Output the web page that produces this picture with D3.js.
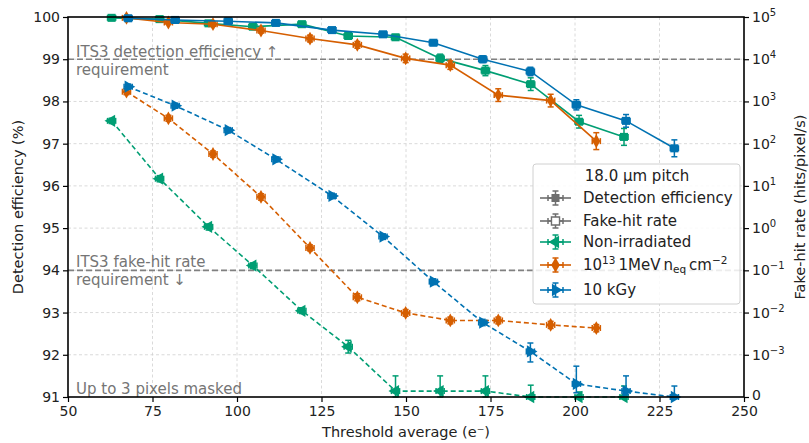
<!DOCTYPE html>
<html>
<head>
<meta charset="utf-8">
<script src="https://cdn.jsdelivr.net/npm/d3@7"></script>
<style>
  body { margin: 0; background: #fff; }
  text { font-family: "DejaVu Sans", sans-serif; }
</style>
</head>
<body>
<script>
// threshold (e-) per series
const greenThr = [62.9, 77.1, 91.6, 104.7, 119.2, 132.9, 146.9, 160.1, 173.5, 186.9, 201.2, 214.5];
const orangeThr = [67.3, 79.7, 92.9, 107.1, 121.6, 135.6, 149.9, 163.1, 177.3, 192.8, 206.3];
const blueThr = [67.8, 81.7, 97.4, 111.5, 128.1, 143.2, 158.1, 172.7, 186.8, 200.4, 215.1, 229.4];

// detection efficiency (%) and errors
const greenEff = [99.98, 99.95, 99.85, 99.77, 99.83, 99.55, 99.52, 99.02, 98.73, 98.41, 97.52, 97.16];
const greenEffErr = [0.01, 0.02, 0.03, 0.03, 0.03, 0.05, 0.05, 0.1, 0.12, 0.15, 0.15, 0.2];
const orangeEff = [99.98, 99.87, 99.83, 99.68, 99.49, 99.34, 99.02, 98.86, 98.15, 98.02, 97.06];
const orangeEffErr = [0.03, 0.04, 0.05, 0.06, 0.08, 0.08, 0.1, 0.1, 0.15, 0.15, 0.2];
const blueEff = [99.97, 99.93, 99.9, 99.86, 99.69, 99.59, 99.39, 99.0, 98.71, 97.92, 97.54, 96.89];
const blueEffErr = [0.02, 0.03, 0.03, 0.04, 0.05, 0.05, 0.06, 0.08, 0.1, 0.12, 0.15, 0.2];

// fake-hit rate (hits/pixel/s) with lower / upper error ends
const greenFhr = [347, 14.8, 1.07, 0.13, 0.011, 0.00155, 0.00014, 0.00014, 0.00014, 0, 0, 0];
const greenFhrLo = [300, 12.5, 0.9, 0.11, 0.0095, 0.0011, 0, 0, 0, 0, 0, 0];
const greenFhrHi = [400, 17.5, 1.25, 0.15, 0.013, 0.0022, 0.0005, 0.0005, 0.0005, 0.00028, 0.00012, 0.00026];
const orangeFhr = [1700, 398, 57, 5.5, 0.34, 0.023, 0.0098, 0.0065, 0.0065, 0.0051, 0.0043];
const orangeFhrLo = [1450, 340, 48, 4.6, 0.29, 0.019, 0.0082, 0.0054, 0.0054, 0.0042, 0.0035];
const orangeFhrHi = [2000, 470, 67, 6.5, 0.4, 0.028, 0.0118, 0.0078, 0.0078, 0.0062, 0.0052];
const blueFhr = [2240, 794, 209, 42.7, 5.8, 0.63, 0.054, 0.0058, 0.0012, 0.00031, 0.00014, 0];
const blueFhrLo = [1950, 690, 180, 37, 5.0, 0.54, 0.046, 0.0049, 0.00083, 0.0001, 0.00005, 0];
const blueFhrHi = [2580, 910, 240, 49, 6.7, 0.73, 0.063, 0.0069, 0.0019, 0.00073, 0.0005, 0.00026];

const xTicks = [50, 75, 100, 125, 150, 175, 200, 225, 250];
const yTicks = [91, 92, 93, 94, 95, 96, 97, 98, 99, 100];
const rTickExp = [null, -3, -2, -1, 0, 1, 2, 3, 4, 5];   // null -> "0"

const colors = { green: '#009e73', orange: '#d55e00', blue: '#0072b2', grey: '#6e6e6e' };

const series = [
    { name: 'green', thr: greenThr, eff: greenEff, effErr: greenEffErr, fhr: greenFhr, lo: greenFhrLo, hi: greenFhrHi,
      effSym: d3.symbolSquare, fhrSym: d3.symbolTriangle, fhrRot: -90 },
    { name: 'orange', thr: orangeThr, eff: orangeEff, effErr: orangeEffErr, fhr: orangeFhr, lo: orangeFhrLo, hi: orangeFhrHi,
      effSym: d3.symbolDiamond, fhrSym: d3.symbolDiamond, fhrRot: 0 },
    { name: 'blue', thr: blueThr, eff: blueEff, effErr: blueEffErr, fhr: blueFhr, lo: blueFhrLo, hi: blueFhrHi,
      effSym: d3.symbolSquare, fhrSym: d3.symbolTriangle, fhrRot: 90 }
];

const W = 809, H = 443;
const pL = 68, pR = 744, pT = 17, pB = 397;

const svg = d3.select('body').append('svg')
    .attr('width', W)
    .attr('height', H);

const x = d3.scaleLinear().domain([50, 250]).range([pL, pR]);
const y = d3.scaleLinear().domain([91, 100]).range([pB, pT]);

// symlog-like right axis: linear 0..1e-3, then log decades
const linthresh = 1e-3;
const symT = v => v <= linthresh ? v / linthresh : 1 + Math.log10(v / linthresh);
const yT = d3.scaleLinear().domain([0, 9]).range([pB, pT]);
const yR = v => yT(symT(v));

// grid
const grid = svg.append('g').attr('class', 'grid');
grid.selectAll('.gx').data(xTicks.slice(1, -1)).enter().append('line')
    .attr('x1', d => x(d)).attr('x2', d => x(d))
    .attr('y1', pT).attr('y2', pB)
    .attr('stroke', '#d0d0d0').attr('stroke-width', 0.8).attr('stroke-dasharray', '3,2.5');
grid.selectAll('.gy').data(yTicks.slice(1, -1)).enter().append('line')
    .attr('x1', pL).attr('x2', pR)
    .attr('y1', d => y(d)).attr('y2', d => y(d))
    .attr('stroke', '#d0d0d0').attr('stroke-width', 0.8).attr('stroke-dasharray', '3,2.5');

// requirement lines
svg.append('line')
    .attr('x1', pL).attr('x2', pR).attr('y1', y(99)).attr('y2', y(99))
    .attr('stroke', '#808080').attr('stroke-width', 1.6).attr('stroke-dasharray', '6,3');
svg.append('line')
    .attr('x1', pL).attr('x2', pR).attr('y1', yR(0.1)).attr('y2', yR(0.1))
    .attr('stroke', '#808080').attr('stroke-width', 1.6).attr('stroke-dasharray', '6,3');

const note = (tx, ty, s) => svg.append('text')
    .attr('x', tx).attr('y', ty)
    .attr('font-size', 15).attr('fill', '#757575').text(s);
note(76, 57, 'ITS3 detection efficiency ↑');
note(76, 75, 'requirement');
note(76, 267, 'ITS3 fake-hit rate');
note(76, 285, 'requirement ↓');
note(76, 394, 'Up to 3 pixels masked');

const plot = svg.append('g');

function errBars(g, pts, color) {
    const cap = 3;
    pts.forEach(p => {
        g.append('line').attr('x1', p.x).attr('x2', p.x).attr('y1', p.y0).attr('y2', p.y1)
            .attr('stroke', color).attr('stroke-width', 1.5);
        [p.y0, p.y1].forEach(yy => g.append('line')
            .attr('x1', p.x - cap).attr('x2', p.x + cap).attr('y1', yy).attr('y2', yy)
            .attr('stroke', color).attr('stroke-width', 1.5));
        g.append('line').attr('x1', p.x0).attr('x2', p.x1).attr('y1', p.y).attr('y2', p.y)
            .attr('stroke', color).attr('stroke-width', 1.5);
        [p.x0, p.x1].forEach(xx => g.append('line')
            .attr('x1', xx).attr('x2', xx).attr('y1', p.y - cap).attr('y2', p.y + cap)
            .attr('stroke', color).attr('stroke-width', 1.5));
    });
}

series.forEach(s => {
    const c = colors[s.name];
    const g = plot.append('g');

    // fake-hit rate (dashed)
    const fPts = s.thr.map((t, i) => ({
        x: x(t), y: yR(s.fhr[i]), y0: yR(s.lo[i]), y1: yR(s.hi[i]), x0: x(t - 1.2), x1: x(t + 1.2)
    }));
    g.append('path')
        .datum(fPts)
        .attr('fill', 'none').attr('stroke', c).attr('stroke-width', 1.6)
        .attr('stroke-dasharray', '5,3')
        .attr('d', d3.line().x(d => d.x).y(d => d.y));
    errBars(g, fPts, c);
    g.selectAll('.fm').data(fPts).enter().append('path')
        .attr('transform', d => `translate(${d.x},${d.y}) rotate(${s.fhrRot})`)
        .attr('d', d3.symbol().type(s.fhrSym).size(s.name === 'orange' ? 55 : 65))
        .attr('fill', c);

    // detection efficiency (solid)
    const ePts = s.thr.map((t, i) => ({
        x: x(t), y: y(s.eff[i]), y0: y(s.eff[i] - s.effErr[i]), y1: y(s.eff[i] + s.effErr[i]),
        x0: x(t - 1.2), x1: x(t + 1.2)
    }));
    g.append('path')
        .datum(ePts)
        .attr('fill', 'none').attr('stroke', c).attr('stroke-width', 1.6)
        .attr('d', d3.line().x(d => d.x).y(d => d.y));
    errBars(g, ePts, c);
    g.selectAll('.em').data(ePts).enter().append('path')
        .attr('transform', d => `translate(${d.x},${d.y})`)
        .attr('d', d3.symbol().type(s.effSym).size(s.name === 'orange' ? 55 : 65))
        .attr('fill', c);
});

// frame
svg.append('rect')
    .attr('x', pL).attr('y', pT).attr('width', pR - pL).attr('height', pB - pT)
    .attr('fill', 'none').attr('stroke', '#000').attr('stroke-width', 1.6);

// axes
const axB = svg.append('g').attr('transform', `translate(0,${pB})`)
    .call(d3.axisBottom(x).tickValues(xTicks).tickSize(5).tickPadding(4));
const axL = svg.append('g').attr('transform', `translate(${pL},0)`)
    .call(d3.axisLeft(y).tickValues(yTicks).tickSize(5).tickPadding(3));
const axR = svg.append('g').attr('transform', `translate(${pR},0)`)
    .call(d3.axisRight(yT).tickValues(d3.range(0, 10)).tickSize(5).tickPadding(3).tickFormat(() => ''));

[axB, axL, axR].forEach(a => {
    a.select('.domain').remove();
    a.selectAll('line').attr('stroke', '#000').attr('stroke-width', 1.2);
    a.selectAll('text').attr('font-size', 14).attr('fill', '#222').attr('font-family', '"DejaVu Sans", sans-serif');
});

axR.selectAll('.tick text').each(function(d) {
    const t = d3.select(this);
    const e = rTickExp[d];
    if (e === null) { t.text('0').attr('dy', '0.2em'); return; }
    t.append('tspan').text('10');
    t.append('tspan').attr('dy', -6).attr('font-size', 10).text(e < 0 ? '\u2212' + (-e) : e);
});

// axis titles
svg.append('text')
    .attr('x', (pL + pR) / 2).attr('y', 437)
    .attr('text-anchor', 'middle').attr('font-size', 14.5).attr('fill', '#222')
    .text('Threshold average (e\u207B)');
svg.append('text')
    .attr('transform', `translate(23,${(pT + pB) / 2}) rotate(-90)`)
    .attr('text-anchor', 'middle').attr('font-size', 14.5).attr('fill', '#222')
    .text('Detection efficiency (%)');
svg.append('text')
    .attr('transform', `translate(805,${(pT + pB) / 2}) rotate(-90)`)
    .attr('text-anchor', 'middle').attr('font-size', 14.5).attr('fill', '#222')
    .text('Fake-hit rate (hits/pixel/s)');

// legend
const lg = svg.append('g');
lg.append('rect')
    .attr('x', 533).attr('y', 164).attr('width', 207).attr('height', 140).attr('rx', 3)
    .attr('fill', 'rgba(255,255,255,0.85)').attr('stroke', '#d0d0d0');
lg.append('text').attr('x', 637).attr('y', 181).attr('text-anchor', 'middle')
    .attr('font-size', 15).attr('fill', '#222').text('18.0 µm pitch');

const legendRows = [
    { cy: 198, color: colors.grey, sym: d3.symbolSquare, rot: 0, open: false, label: 'Detection efficiency' },
    { cy: 221, color: colors.grey, sym: d3.symbolSquare, rot: 0, open: true, label: 'Fake-hit rate' },
    { cy: 242, color: colors.green, sym: d3.symbolTriangle, rot: -90, open: false, label: 'Non-irradiated' },
    { cy: 265, color: colors.orange, sym: d3.symbolDiamond, rot: 0, open: false, label: null },
    { cy: 290, color: colors.blue, sym: d3.symbolTriangle, rot: 90, open: false, label: '10 kGy' }
];
legendRows.forEach(r => {
    const g = lg.append('g');
    g.append('line').attr('x1', 540).attr('x2', 571).attr('y1', r.cy).attr('y2', r.cy)
        .attr('stroke', r.color).attr('stroke-width', 1.6);
    errBars(g, [{ x: 555.5, y: r.cy, y0: r.cy - 7, y1: r.cy + 7, x0: 548, x1: 563 }], r.color);
    g.append('path')
        .attr('transform', `translate(555.5,${r.cy}) rotate(${r.rot})`)
        .attr('d', d3.symbol().type(r.sym).size(65))
        .attr('fill', r.open ? '#fff' : r.color)
        .attr('stroke', r.open ? r.color : 'none').attr('stroke-width', 1.4);
    if (r.label) {
        g.append('text').attr('x', 583).attr('y', r.cy + 5).attr('font-size', 15).attr('fill', '#222').text(r.label);
    } else {
        const t = g.append('text').attr('x', 583).attr('y', r.cy + 5).attr('font-size', 15).attr('fill', '#222');
        t.append('tspan').text('10');
        t.append('tspan').attr('dy', -6).attr('font-size', 10.5).text('13');
        t.append('tspan').attr('dy', 6).text('\u20091MeV\u2009n');
        t.append('tspan').attr('dy', 3).attr('font-size', 10.5).text('eq');
        t.append('tspan').attr('dy', -3).text('\u2009cm');
        t.append('tspan').attr('dy', -6).attr('font-size', 10.5).text('\u22122');
    }
});
</script>
</body>
</html>
